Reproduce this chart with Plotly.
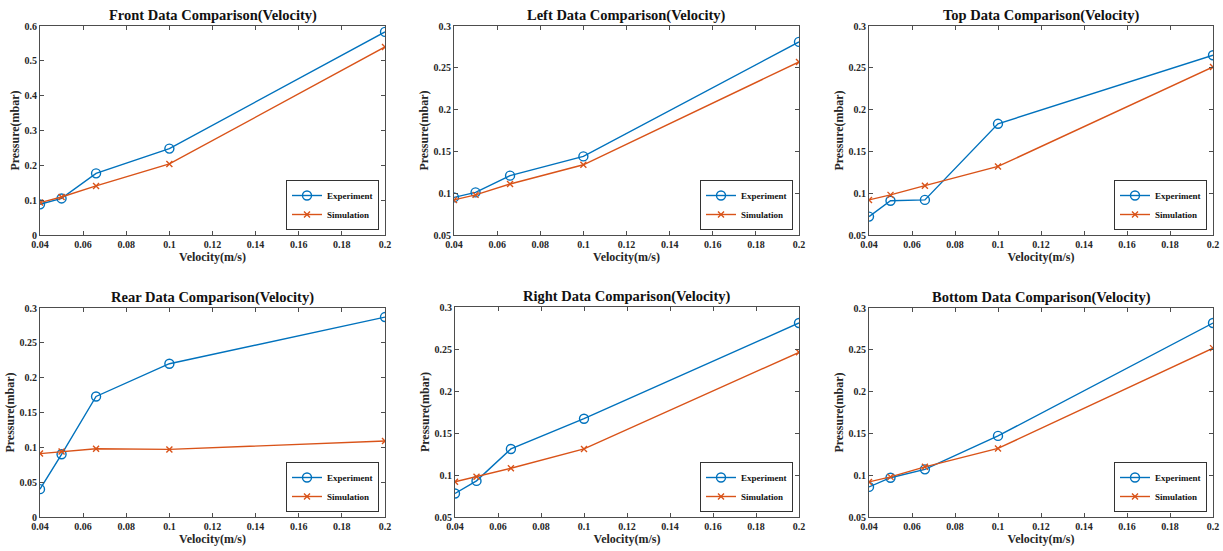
import plotly.graph_objects as go

W, H = 1223, 551

velocity = [0.04, 0.05, 0.066, 0.1, 0.2]

panel_names = ["Front", "Left", "Top", "Rear", "Right", "Bottom"]

front_exp = [0.088, 0.105, 0.177, 0.248, 0.583]
front_sim = [0.093, 0.109, 0.141, 0.204, 0.540]
left_exp = [0.095, 0.101, 0.121, 0.144, 0.281]
left_sim = [0.092, 0.098, 0.111, 0.134, 0.257]
top_exp = [0.072, 0.091, 0.092, 0.183, 0.265]
top_sim = [0.092, 0.098, 0.109, 0.132, 0.251]
rear_exp = [0.040, 0.090, 0.173, 0.220, 0.287]
rear_sim = [0.091, 0.094, 0.098, 0.097, 0.109]
right_exp = [0.078, 0.093, 0.131, 0.167, 0.281]
right_sim = [0.092, 0.098, 0.108, 0.131, 0.246]
bottom_exp = [0.086, 0.097, 0.107, 0.147, 0.282]
bottom_sim = [0.092, 0.098, 0.110, 0.132, 0.252]

x_ticks = [0.04, 0.06, 0.08, 0.1, 0.12, 0.14, 0.16, 0.18, 0.2]
x_ticklabels = ["0.04", "0.06", "0.08", "0.1", "0.12", "0.14", "0.16", "0.18", "0.2"]
y_ticks_front = [0, 0.1, 0.2, 0.3, 0.4, 0.5, 0.6]
y_labels_front = ["0", "0.1", "0.2", "0.3", "0.4", "0.5", "0.6"]
y_ticks_std = [0.05, 0.1, 0.15, 0.2, 0.25, 0.3]
y_labels_std = ["0.05", "0.1", "0.15", "0.2", "0.25", "0.3"]
y_ticks_rear = [0, 0.05, 0.1, 0.15, 0.2, 0.25, 0.3]
y_labels_rear = ["0", "0.05", "0.1", "0.15", "0.2", "0.25", "0.3"]

exp_data = [front_exp, left_exp, top_exp, rear_exp, right_exp, bottom_exp]
sim_data = [front_sim, left_sim, top_sim, rear_sim, right_sim, bottom_sim]
y_ranges = [[0, 0.6], [0.05, 0.3], [0.05, 0.3], [0, 0.3], [0.05, 0.3], [0.05, 0.3]]
y_tick_sets = [(y_ticks_front, y_labels_front), (y_ticks_std, y_labels_std), (y_ticks_std, y_labels_std),
               (y_ticks_rear, y_labels_rear), (y_ticks_std, y_labels_std), (y_ticks_std, y_labels_std)]

# plot boxes in pixels (left, right, top, bottom)
boxes = [
    (40, 385, 26, 235), (454, 799, 26, 235), (869, 1213, 26, 235),
    (40, 385, 308, 517), (455, 799, 307, 517), (869, 1213, 308, 517),
]

BLUE = "#0072BD"
ORANGE = "#D95319"
FONT = "Liberation Serif"
AXC = "#262626"

fig = go.Figure()
layout = dict(width=W, height=H, margin=dict(l=0, r=0, t=0, b=0, autoexpand=False),
              paper_bgcolor="white", plot_bgcolor="white",
              font=dict(family=FONT, color=AXC), annotations=[], showlegend=True)

for i in range(6):
    n = i + 1
    xa = "x" if n == 1 else f"x{n}"
    ya = "y" if n == 1 else f"y{n}"
    lg = "legend" if n == 1 else f"legend{n}"
    l, r, t, b = boxes[i]
    fig.add_trace(go.Scatter(x=velocity, y=exp_data[i], mode="lines+markers", name="<b>Experiment</b>",
                             line=dict(color=BLUE, width=1.4),
                             marker=dict(symbol="circle-open", size=9, color=BLUE, line=dict(width=1.4)),
                             xaxis=xa, yaxis=ya, legend=lg))
    fig.add_trace(go.Scatter(x=velocity, y=sim_data[i], mode="lines+markers", name="<b>Simulation</b>",
                             line=dict(color=ORANGE, width=1.4),
                             marker=dict(symbol="x-thin-open", size=6, color=ORANGE, line=dict(width=1.4, color=ORANGE)),
                             xaxis=xa, yaxis=ya, legend=lg))
    axcommon = dict(showgrid=False, zeroline=False, showline=True, linecolor="#4d4d4d", linewidth=1,
                    mirror="ticks", ticks="inside", ticklen=4, tickcolor="#4d4d4d", automargin=False,
                    tickfont=dict(family=FONT, size=10, color=AXC))
    layout["xaxis" + ("" if n == 1 else str(n))] = dict(
        axcommon, domain=[l / W, r / W], range=[0.04, 0.2], tickvals=x_ticks,
        ticktext=[f"<b>{s}</b>" for s in x_ticklabels], anchor=ya,
        title=dict(text="<b>Velocity(m/s)</b>", font=dict(family=FONT, size=12, color=AXC), standoff=2))
    yt, yl = y_tick_sets[i]
    layout["yaxis" + ("" if n == 1 else str(n))] = dict(
        axcommon, domain=[1 - b / H, 1 - t / H], range=y_ranges[i], tickvals=yt,
        ticktext=[f"<b>{s}</b>" for s in yl], anchor=xa,
        title=dict(text="<b>Pressure(mbar)</b>", font=dict(family=FONT, size=12, color=AXC), standoff=2))
    layout["annotations"].append(dict(
        text=f"<b>{panel_names[i]} Data Comparison(Velocity)</b>", xref="paper", yref="paper",
        x=(l + r) / 2 / W, y=1 - (t - 11) / H, xanchor="center", yanchor="middle", showarrow=False,
        font=dict(family=FONT, size=14.5, color="#111111")))
    layout[lg] = dict(x=(r - 6) / W, y=1 - (b - 5) / H, xanchor="right", yanchor="bottom",
                      bgcolor="white", bordercolor="#333333", borderwidth=1,
                      font=dict(family=FONT, size=9, color="#111111"),
                      itemwidth=30, tracegroupgap=0, traceorder="normal")

fig.update_layout(**layout)
fig.write_html("out.html", config={"displayModeBar": False},
               post_script="document.body.style.margin='0';document.body.style.overflow='hidden';")
